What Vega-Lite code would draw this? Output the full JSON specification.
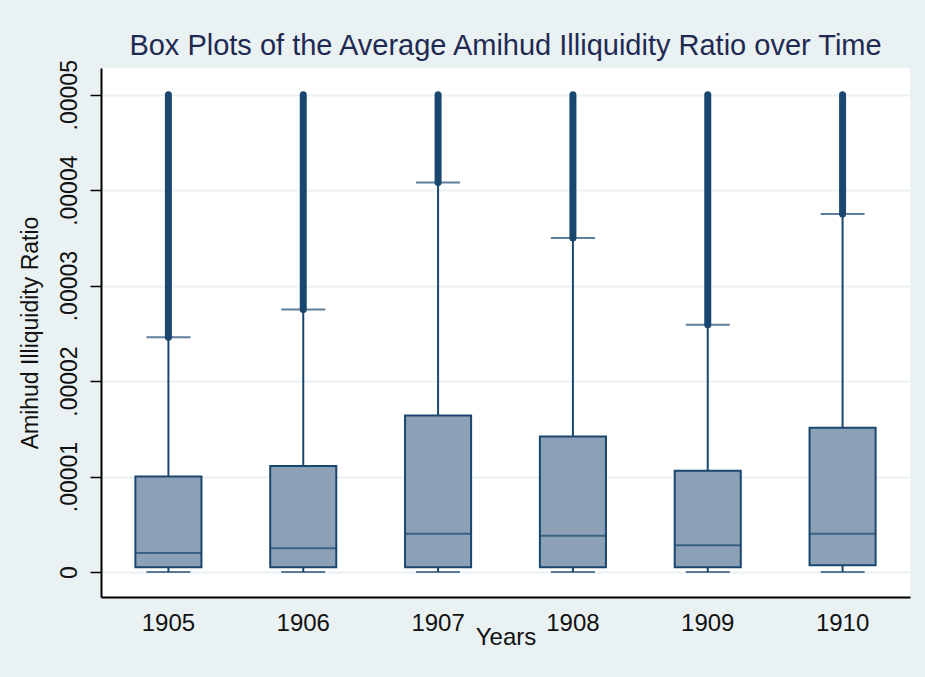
{
  "$schema": "https://vega.github.io/schema/vega-lite/v6.json",
  "autosize": {"type": "none"},
  "padding": {"left": 101, "top": 68, "right": 15, "bottom": 80},
  "width": 809,
  "height": 529,
  "background": "#EAF1F3",
  "title": {
    "text": "Box Plots of the Average Amihud Illiquidity Ratio over Time",
    "font": "Liberation Sans",
    "fontSize": 29,
    "fontWeight": "normal",
    "color": "#1f2a52",
    "anchor": "middle",
    "offset": -1
  },
  "config": {
    "view": {"fill": "white", "stroke": null},
    "axis": {"labelFont": "Liberation Sans", "titleFont": "Liberation Sans", "labelColor": "#111111", "titleColor": "#111111", "titleFontWeight": "normal"}
  },
  "data": {
    "values": [
      {"year": "1905", "lower": 0, "q1": 0.0000005, "median": 0.000002, "q3": 0.00001, "upper": 0.0000246, "max": 0.00005},
      {"year": "1906", "lower": 0, "q1": 0.0000005, "median": 0.0000025, "q3": 0.0000111, "upper": 0.0000275, "max": 0.00005},
      {"year": "1907", "lower": 0, "q1": 0.0000005, "median": 0.000004, "q3": 0.0000164, "upper": 0.0000408, "max": 0.00005},
      {"year": "1908", "lower": 0, "q1": 0.0000005, "median": 0.0000038, "q3": 0.0000142, "upper": 0.000035, "max": 0.00005},
      {"year": "1909", "lower": 0, "q1": 0.0000005, "median": 0.0000028, "q3": 0.0000106, "upper": 0.0000259, "max": 0.00005},
      {"year": "1910", "lower": 0, "q1": 0.0000007, "median": 0.000004, "q3": 0.0000151, "upper": 0.0000375, "max": 0.00005}
    ]
  },
  "encoding": {
    "x": {
      "field": "year", "type": "ordinal",
      "scale": {"paddingInner": 0, "paddingOuter": 0},
      "axis": {"title": "Years", "labelAngle": 0, "ticks": false, "labelPadding": 14, "labelFontSize": 24, "titleFontSize": 24, "titlePadding": -10, "domainColor": "#000000", "domainWidth": 2, "grid": false}
    }
  },
  "layer": [
    {
      "mark": {"type": "rule", "color": "#1A476F", "strokeWidth": 2},
      "encoding": {
        "y": {"field": "lower", "type": "quantitative",
          "scale": {"domain": [-0.00000262, 0.0000528], "nice": false, "zero": false},
          "axis": {
            "title": "Amihud Illiquidity Ratio",
            "values": [0, 0.00001, 0.00002, 0.00003, 0.00004, 0.00005],
            "labelExpr": "datum.value == 0 ? '0' : replace(format(datum.value, '.5f'), '0.', '.')",
            "labelAngle": -90, "labelFontSize": 23, "labelPadding": 9,
            "titleFontSize": 23, "titlePadding": 16,
            "tickSize": 11, "tickColor": "#000000", "tickWidth": 1.5,
            "domainColor": "#000000", "domainWidth": 2,
            "grid": true, "gridColor": "#EAF1F3", "gridWidth": 2
          }
        },
        "y2": {"field": "q1"}
      }
    },
    {
      "mark": {"type": "rule", "color": "#1A476F", "strokeWidth": 2},
      "encoding": {"y": {"field": "q3", "type": "quantitative"}, "y2": {"field": "upper"}}
    },
    {
      "mark": {"type": "rule", "color": "#1A476F", "strokeWidth": 7, "strokeCap": "round"},
      "encoding": {"y": {"field": "upper", "type": "quantitative"}, "y2": {"field": "max"}}
    },
    {
      "mark": {"type": "bar", "fill": "#8CA1B6", "stroke": "#1A476F", "strokeWidth": 2, "width": {"band": 0.49}},
      "encoding": {"y": {"field": "q1", "type": "quantitative"}, "y2": {"field": "q3"}}
    },
    {
      "mark": {"type": "tick", "color": "#1A476F", "size": 66, "thickness": 2},
      "encoding": {"y": {"field": "median", "type": "quantitative"}}
    },
    {
      "mark": {"type": "tick", "color": "#1A476F", "size": 44, "thickness": 2},
      "encoding": {"y": {"field": "lower", "type": "quantitative"}}
    },
    {
      "mark": {"type": "tick", "color": "#1A476F", "size": 44, "thickness": 2},
      "encoding": {"y": {"field": "upper", "type": "quantitative"}}
    }
  ]
}
